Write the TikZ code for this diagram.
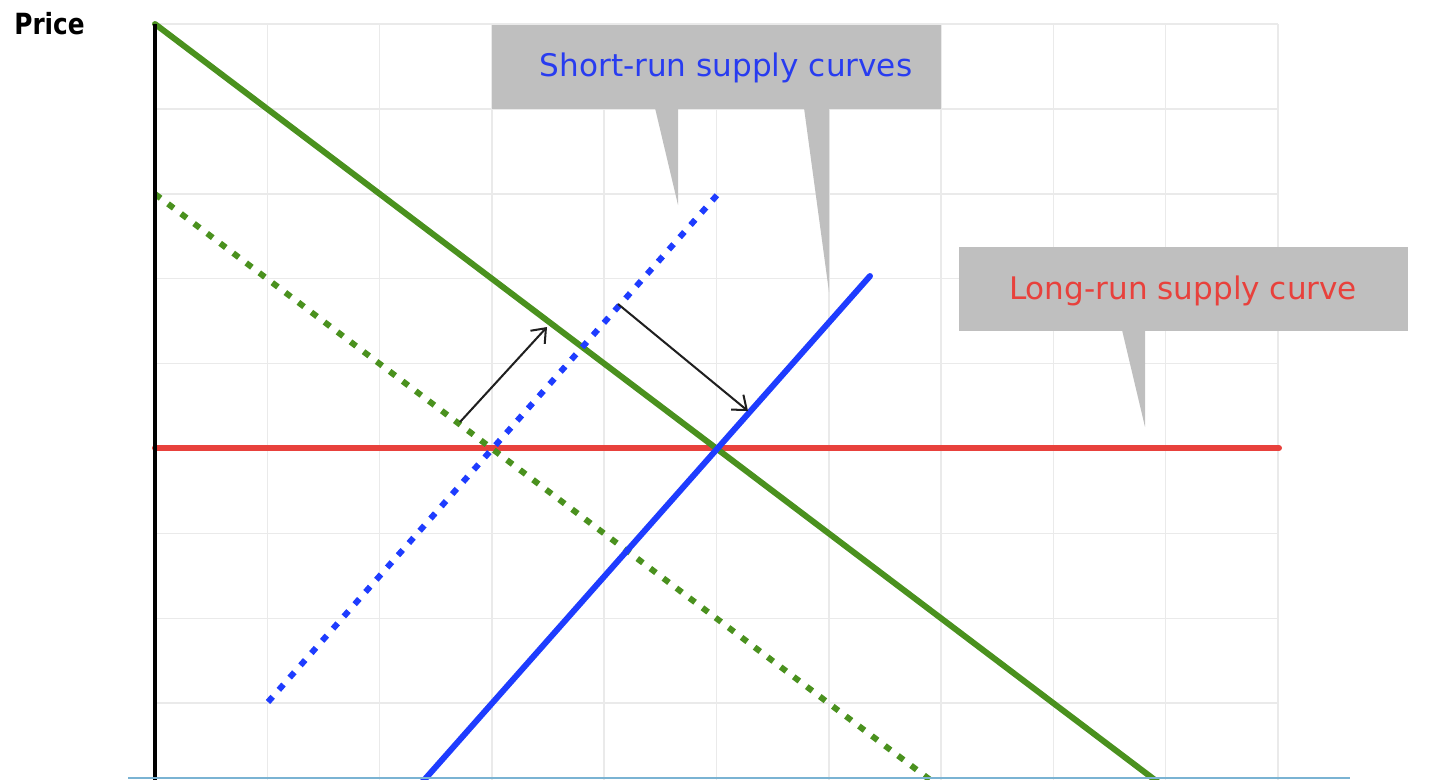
\documentclass[tikz,border=0pt]{standalone}
\usepackage{fontspec}
\setmainfont{DejaVu Sans}
\usetikzlibrary{arrows.meta}
\definecolor{gridc}{RGB}{234,234,234}
\definecolor{dgreen}{RGB}{74,145,30}
\definecolor{sblue}{RGB}{30,60,255}
\definecolor{lred}{RGB}{232,65,60}
\definecolor{callgray}{RGB}{191,191,191}
\definecolor{tblue}{RGB}{40,60,240}
\definecolor{frameblue}{RGB}{122,179,211}
\tikzset{
  gridline/.style={draw=gridc, line width=0.85pt},
  curve/.style={line width=3.4pt, line cap=round},
  dotcurve/.style={line width=3.4pt, line cap=butt, dash pattern=on 4pt off 5.3pt},
  shiftarrow/.style={draw=black!88, line width=1.15pt, -{Straight Barb[length=7pt,width=11pt,line width=1.15pt]}},
  callbox/.style={fill=callgray, draw=none, inner sep=0pt},
  calltext/.style={font=\fontsize{17.7}{20}\selectfont, inner sep=0pt, anchor=base},
}
\begin{document}
\begin{tikzpicture}[x=0.02cm, y=-0.02cm]
\useasboundingbox (0,0) rectangle (1452,779);
\begin{scope}
\clip (0,0) rectangle (1452,779);
% grid
\foreach \i in {1,...,10} \draw[gridline] ({155+112.3*\i},24) -- ({155+112.3*\i},790);
\foreach \j in {0,...,8} \draw[gridline] (155,{24+84.9*\j}) -- (1278,{24+84.9*\j});
% coordinates
\coordinate (O) at (155,24);
\coordinate (axisbot) at (155,790);
\coordinate (dtop) at (155,24);
\coordinate (dbot) at (1165.7,788.1);
\coordinate (d2top) at (155,194);
\coordinate (d2bot) at (941,788.1);
\coordinate (stop) at (870,276);
\coordinate (sbot) at (417,788.1);
\coordinate (s1top) at (718,194);
\coordinate (s1bot) at (268,702);
\coordinate (lrl) at (155,448);
\coordinate (lrr) at (1279,448);
% long-run supply
\draw[curve, lred] (lrl) -- (lrr);
% demand curves
\draw[dotcurve, dgreen] (d2top) -- (d2bot);
\draw[curve, dgreen] (dtop) -- (dbot);
% short-run supply curves
\draw[dotcurve, sblue] (s1bot) -- (s1top);
\draw[curve, sblue] (sbot) -- (stop);
% axis
\draw[line width=2.3pt, black] (O) -- (axisbot);
% shift arrows
\coordinate (a1s) at (460,422);
\coordinate (a1e) at (547,327);
\coordinate (a2s) at (618,304);
\coordinate (a2e) at (748,411);
\draw[shiftarrow] (a1s) -- (a1e);
\draw[shiftarrow] (a2s) -- (a2e);
% callout: short-run
\node[callbox, minimum width=8.98cm, minimum height=1.68cm] (srbox) at (716.5,67) {};
\coordinate (p1a) at (655,108);
\coordinate (p1b) at (678,108);
\coordinate (p1t) at (678,205);
\coordinate (p2a) at (804,108);
\coordinate (p2b) at (829,108);
\coordinate (p2t) at (829,292);
\fill[callgray] (p1a) -- (p1b) -- (p1t) -- cycle;
\fill[callgray] (p2a) -- (p2b) -- (p2t) -- cycle;
\node[calltext, text=tblue] (srlabel) at (726,76) {Short-run supply curves};
% callout: long-run
\node[callbox, minimum width=8.98cm, minimum height=1.68cm] (lrbox) at (1183.5,289) {};
\coordinate (p3a) at (1122,330);
\coordinate (p3b) at (1145,330);
\coordinate (p3t) at (1145,427);
\fill[callgray] (p3a) -- (p3b) -- (p3t) -- cycle;
\node[calltext, text=lred] (lrlabel) at (1183,299) {Long-run supply curve};
% price label
\node[font=\fontsize{16.6}{19}\selectfont\bfseries, inner sep=0pt, anchor=base west] (price) at (14,34) {\scalebox{0.85}[1]{Price}};
% bottom frame line
\coordinate (fl) at (128,778);
\coordinate (fr) at (1350,778);
\draw[frameblue, line width=1.2pt] (fl) -- (fr);
\end{scope}
\end{tikzpicture}
\end{document}
